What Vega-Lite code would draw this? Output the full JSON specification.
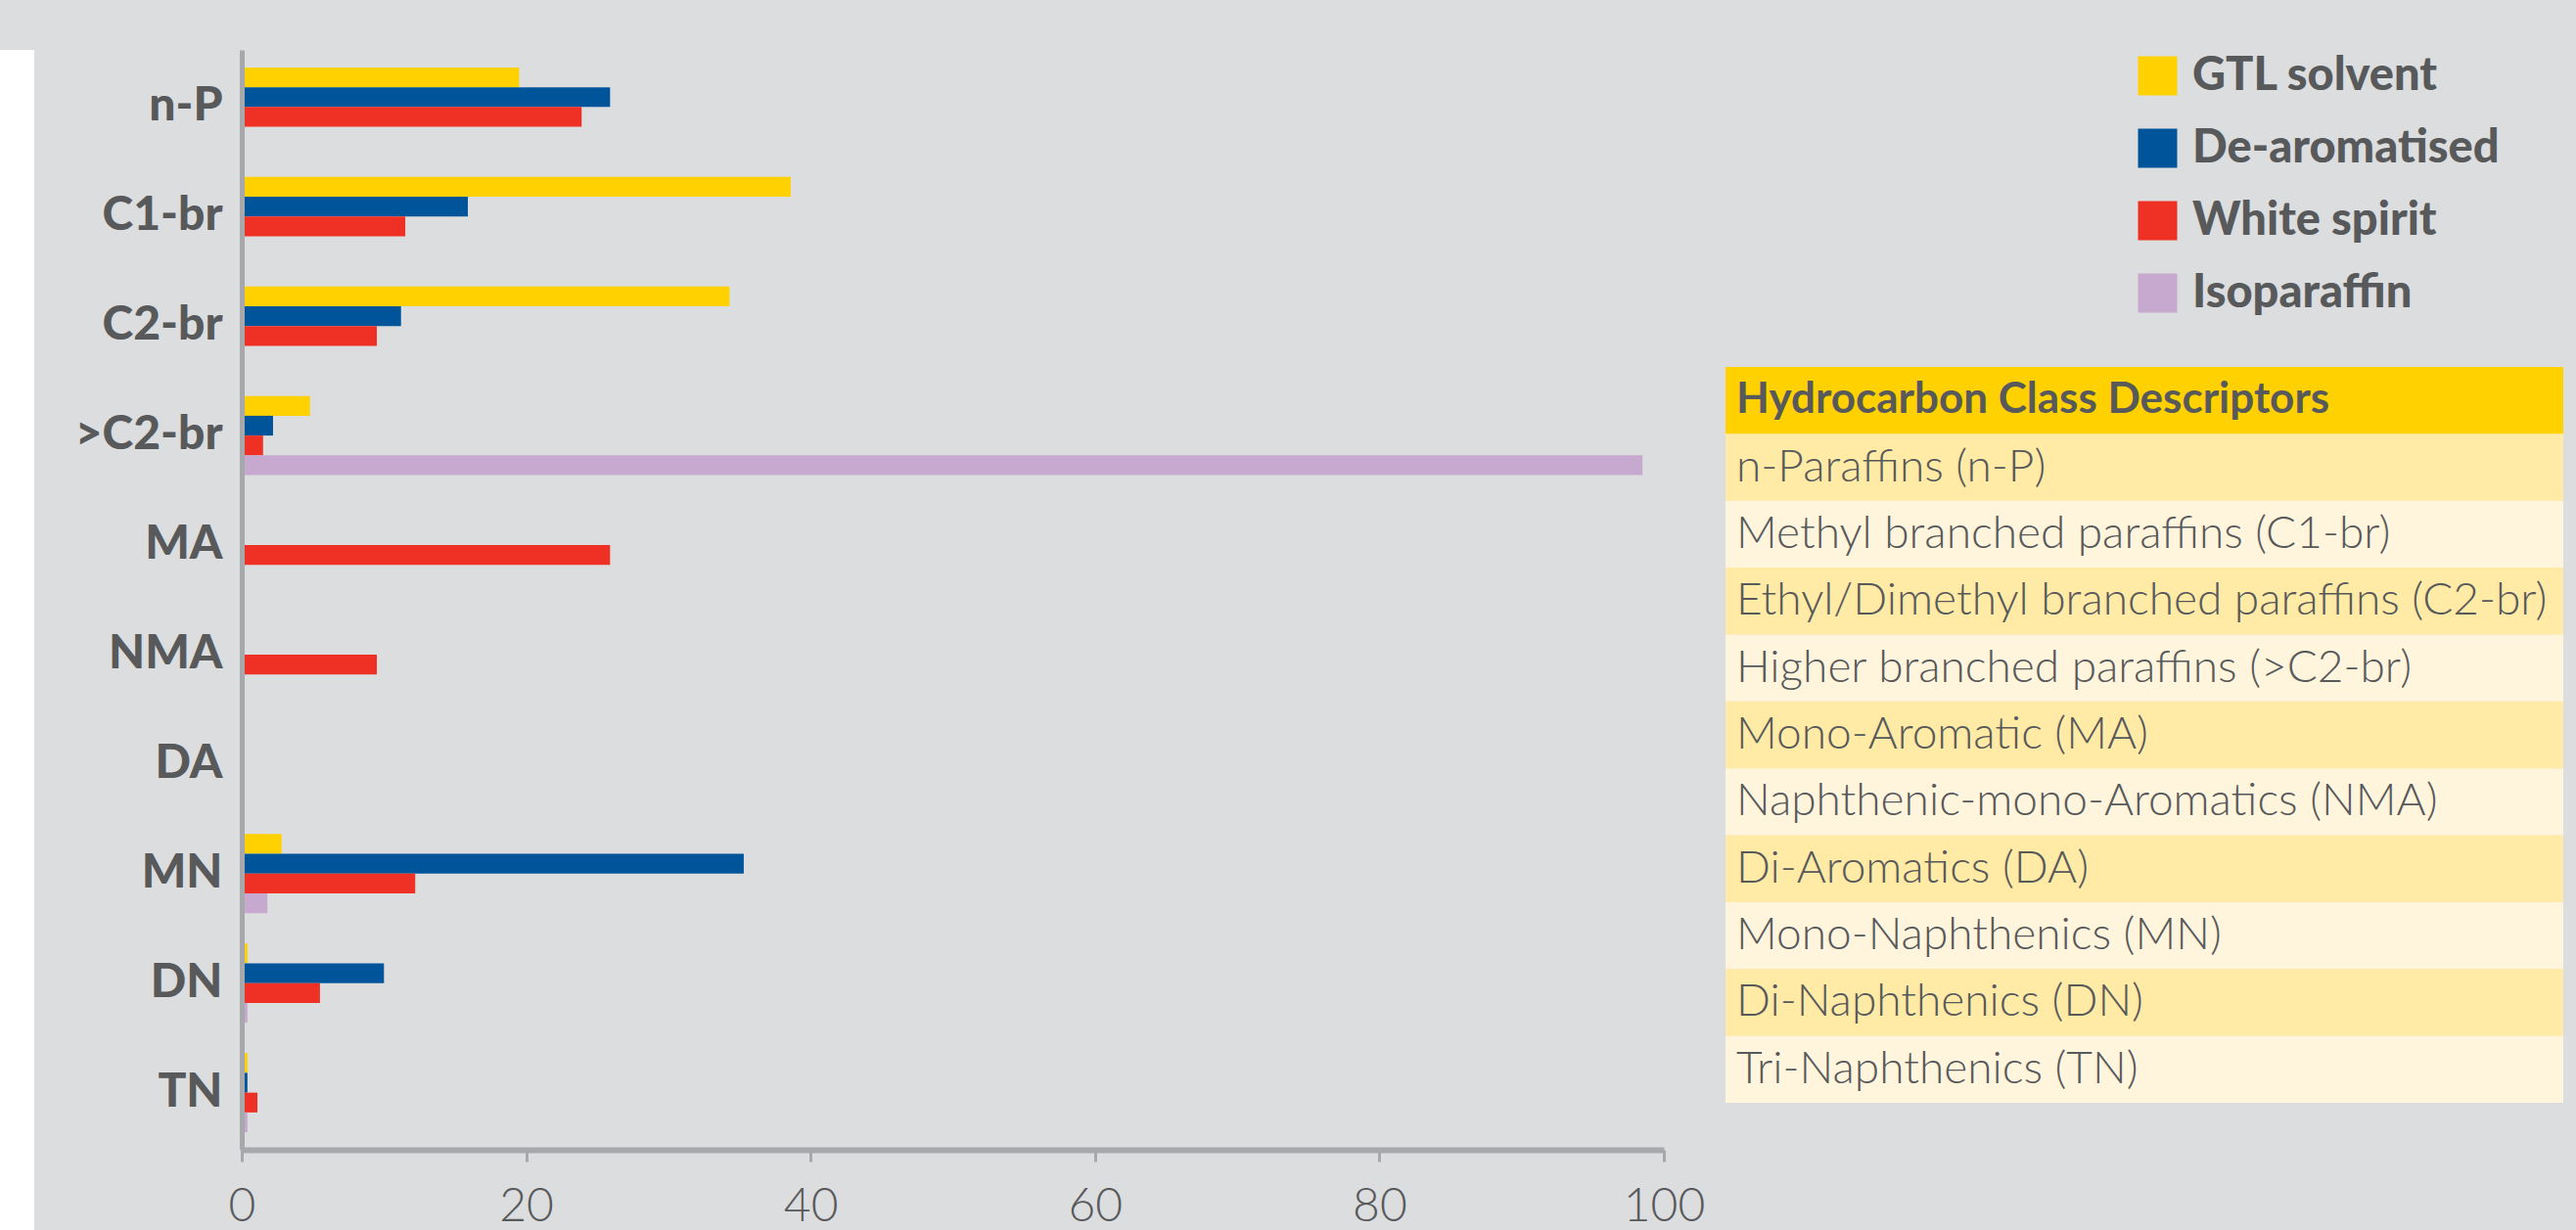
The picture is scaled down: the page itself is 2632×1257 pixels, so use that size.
{
  "$schema": "https://vega.github.io/schema/vega-lite/v6.json",
  "background": "#dcdddf",
  "padding": {"left": 0, "top": 51, "right": 13, "bottom": 0},
  "spacing": 21,
  "bounds": "full",
  "align": "none",
  "config": {"view": {"stroke": null}, "font": "Lato"},
  "resolve": {"scale": {"color": "independent", "x": "independent", "y": "independent"}, "legend": {"color": "independent"}},
  "datasets": {
    "bars": [
      {"class": "n-P", "product": "GTL solvent", "value": 19.5},
      {"class": "n-P", "product": "De-aromatised", "value": 25.9},
      {"class": "n-P", "product": "White spirit", "value": 23.9},
      {"class": "C1-br", "product": "GTL solvent", "value": 38.6},
      {"class": "C1-br", "product": "De-aromatised", "value": 15.9},
      {"class": "C1-br", "product": "White spirit", "value": 11.5},
      {"class": "C2-br", "product": "GTL solvent", "value": 34.3},
      {"class": "C2-br", "product": "De-aromatised", "value": 11.2},
      {"class": "C2-br", "product": "White spirit", "value": 9.5},
      {"class": ">C2-br", "product": "GTL solvent", "value": 4.8},
      {"class": ">C2-br", "product": "De-aromatised", "value": 2.2},
      {"class": ">C2-br", "product": "White spirit", "value": 1.5},
      {"class": ">C2-br", "product": "Isoparaffin", "value": 98.5},
      {"class": "MA", "product": "White spirit", "value": 25.9},
      {"class": "NMA", "product": "White spirit", "value": 9.5},
      {"class": "MN", "product": "GTL solvent", "value": 2.8},
      {"class": "MN", "product": "De-aromatised", "value": 35.3},
      {"class": "MN", "product": "White spirit", "value": 12.2},
      {"class": "MN", "product": "Isoparaffin", "value": 1.8},
      {"class": "DN", "product": "GTL solvent", "value": 0.4},
      {"class": "DN", "product": "De-aromatised", "value": 10.0},
      {"class": "DN", "product": "White spirit", "value": 5.5},
      {"class": "DN", "product": "Isoparaffin", "value": 0.4},
      {"class": "TN", "product": "GTL solvent", "value": 0.4},
      {"class": "TN", "product": "De-aromatised", "value": 0.4},
      {"class": "TN", "product": "White spirit", "value": 1.1},
      {"class": "TN", "product": "Isoparaffin", "value": 0.4}
    ],
    "descriptors": [
      {"code": "header", "text": "Hydrocarbon Class Descriptors"},
      {"code": "n-P", "text": "n-Paraffins (n-P)"},
      {"code": "C1-br", "text": "Methyl branched paraffins (C1-br)"},
      {"code": "C2-br", "text": "Ethyl/Dimethyl branched paraffins (C2-br)"},
      {"code": ">C2-br", "text": "Higher branched paraffins (>C2-br)"},
      {"code": "MA", "text": "Mono-Aromatic (MA)"},
      {"code": "NMA", "text": "Naphthenic-mono-Aromatics (NMA)"},
      {"code": "DA", "text": "Di-Aromatics (DA)"},
      {"code": "MN", "text": "Mono-Naphthenics (MN)"},
      {"code": "DN", "text": "Di-Naphthenics (DN)"},
      {"code": "TN", "text": "Tri-Naphthenics (TN)"}
    ]
  },
  "hconcat": [
    {
      "width": 35,
      "height": 1206,
      "view": {"fill": "white", "stroke": null},
      "data": {"values": [{}]},
      "mark": {"type": "rect", "fill": "white"},
      "encoding": {}
    },
    {
      "width": 1453,
      "height": 1124,
      "data": {"name": "bars"},
      "mark": {"type": "bar"},
      "encoding": {
        "y": {
          "field": "class",
          "type": "nominal",
          "scale": {
            "domain": ["n-P", "C1-br", "C2-br", ">C2-br", "MA", "NMA", "DA", "MN", "DN", "TN"],
            "paddingInner": 0.277,
            "paddingOuter": 0.16
          },
          "axis": {
            "title": null,
            "ticks": false,
            "domainColor": "#a6a8ab",
            "domainWidth": 5,
            "labelFont": "Lato",
            "labelFontSize": 48,
            "labelFontWeight": 900,
            "labelColor": "#58595b",
            "labelPadding": 20,
            "minExtent": 191,
            "zindex": 1
          }
        },
        "yOffset": {
          "field": "product",
          "type": "nominal",
          "scale": {
            "domain": ["GTL solvent", "De-aromatised", "White spirit", "Isoparaffin"],
            "paddingInner": 0,
            "paddingOuter": 0
          }
        },
        "x": {
          "field": "value",
          "type": "quantitative",
          "scale": {"domain": [0, 100], "nice": false},
          "axis": {
            "title": null,
            "values": [0, 20, 40, 60, 80, 100],
            "grid": false,
            "domainColor": "#a6a8ab",
            "domainWidth": 6,
            "tickColor": "#a6a8ab",
            "tickWidth": 3,
            "tickSize": 12,
            "labelFont": "Lato",
            "labelFontSize": 48,
            "labelFontWeight": 300,
            "labelColor": "#58595b",
            "labelPadding": 22,
            "labelFlush": false,
            "zindex": 1
          }
        },
        "color": {
          "field": "product",
          "type": "nominal",
          "scale": {
            "domain": ["GTL solvent", "De-aromatised", "White spirit", "Isoparaffin"],
            "range": ["#ffd100", "#00549a", "#ee3124", "#c7a8ce"]
          },
          "legend": null
        }
      }
    },
    {
      "width": 856,
      "height": 1076,
      "layer": [
        {
          "data": {"name": "descriptors"},
          "mark": {"type": "rect", "fill": "#fff5dd"},
          "encoding": {
            "y": {
              "field": "text",
              "type": "nominal",
              "sort": null,
              "scale": {
                "domain": ["Hydrocarbon Class Descriptors", "n-Paraffins (n-P)", "Methyl branched paraffins (C1-br)", "Ethyl/Dimethyl branched paraffins (C2-br)", "Higher branched paraffins (>C2-br)", "Mono-Aromatic (MA)", "Naphthenic-mono-Aromatics (NMA)", "Di-Aromatics (DA)", "Mono-Naphthenics (MN)", "Di-Naphthenics (DN)", "Tri-Naphthenics (TN)"],
                "range": [324, 1076],
                "paddingInner": 0,
                "paddingOuter": 0
              },
              "axis": null
            },
            "x": {"datum": 0, "type": "quantitative", "scale": {"domain": [0, 1]}, "axis": null},
            "x2": {"datum": 1}
          }
        },
        {
          "data": {"name": "descriptors"},
          "transform": [{"filter": {"field": "code", "oneOf": ["n-P", "C2-br", "MA", "DA", "DN"]}}],
          "mark": {"type": "rect", "fill": "#ffeaa6"},
          "encoding": {
            "y": {"field": "text", "type": "nominal", "sort": null},
            "x": {"datum": 0, "type": "quantitative"},
            "x2": {"datum": 1}
          }
        },
        {
          "data": {"name": "descriptors"},
          "transform": [{"filter": "datum.code === 'header'"}],
          "mark": {"type": "rect", "fill": "#ffd100"},
          "encoding": {
            "y": {"field": "text", "type": "nominal", "sort": null},
            "x": {"datum": 0, "type": "quantitative"},
            "x2": {"datum": 1}
          }
        },
        {
          "data": {"name": "descriptors"},
          "transform": [{"filter": "datum.code !== 'header'"}],
          "mark": {"type": "text", "align": "left", "dx": 11, "font": "Lato", "fontSize": 46, "fontWeight": 300, "color": "#58595b"},
          "encoding": {
            "y": {"field": "text", "type": "nominal", "sort": null},
            "x": {"datum": 0, "type": "quantitative"},
            "text": {"field": "text"}
          }
        },
        {
          "data": {"name": "descriptors"},
          "transform": [{"filter": "datum.code === 'header'"}],
          "mark": {"type": "text", "align": "left", "dx": 11, "font": "Lato", "fontSize": 44, "fontWeight": "bold", "color": "#58595b"},
          "encoding": {
            "y": {"field": "text", "type": "nominal", "sort": null},
            "x": {"datum": 0, "type": "quantitative"},
            "text": {"field": "text"}
          }
        },
        {
          "data": {"name": "bars"},
          "mark": {"type": "square", "opacity": 0},
          "encoding": {
            "color": {
              "field": "product",
              "type": "nominal",
              "scale": {
                "domain": ["GTL solvent", "De-aromatised", "White spirit", "Isoparaffin"],
                "range": ["#ffd100", "#00549a", "#ee3124", "#c7a8ce"]
              },
              "legend": {
                "title": null,
                "orient": "none",
                "legendX": 416,
                "legendY": 1,
                "symbolType": "square",
                "symbolSize": 1600,
                "symbolStrokeWidth": 0,
                "symbolOpacity": 1,
                "labelFont": "Lato",
                "labelFontSize": 47,
                "labelFontWeight": 900,
                "labelColor": "#58595b",
                "labelOffset": 12,
                "labelLimit": 700,
                "rowPadding": 26,
                "padding": 2
              }
            }
          }
        }
      ]
    }
  ]
}
